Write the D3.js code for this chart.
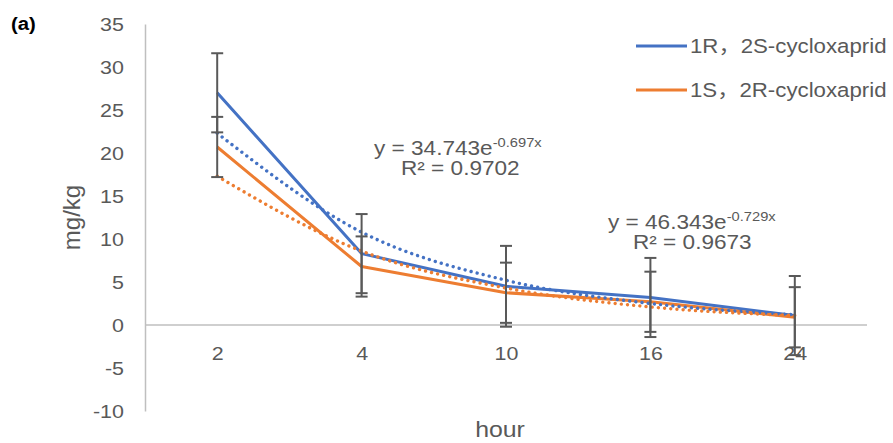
<!DOCTYPE html>
<html>
<head>
<meta charset="utf-8">
<script src="https://cdn.jsdelivr.net/npm/d3@7"></script>
<style>
  html, body { margin: 0; padding: 0; background: #fff; }
  svg { display: block; font-family: 'Liberation Sans', 'Noto Sans CJK SC', Arial, sans-serif; }
</style>
</head>
<body>
<div id="chart"></div>
<script>
// data
const hours = ['2', '4', '10', '16', '24'];
const seriesNames = ['1R\uFF0C2S-cycloxaprid', '1S\uFF0C2R-cycloxaprid'];
const rsValues = [27.0, 8.3, 4.5, 3.2, 1.1];
const srValues = [20.7, 6.8, 3.75, 2.7, 0.9];
const rsErrors = [4.6, 4.6, 4.7, 4.6, 4.6];
const srErrors = [3.5, 3.5, 3.5, 3.5, 3.5];
// dotted exponential trendlines, read at each hour
const rsTrend = [22.3, 10.8, 5.2, 2.5, 1.2];
const srTrend = [17.3, 8.6, 4.3, 2.1, 1.1];
const yTicks = [-10, -5, 0, 5, 10, 15, 20, 25, 30, 35];
const trendLabels = [
  { base: 'y = 34.743e', exp: '-0.697x', r2: 'R\u00B2 = 0.9702' },
  { base: 'y = 46.343e', exp: '-0.729x', r2: 'R\u00B2 = 0.9673' }
];

const width = 893, height = 443;
const plot = { left: 145, right: 867, top: 24, bottom: 411 };
const textColor = '#595959';
const axisColor = '#bfbfbf';
const colors = ['#4472C4', '#ED7D31'];
const stretch = 1.13; // the picture is a bit wider than tall

const svg = d3.select('#chart')
  .append('svg')
  .attr('width', width)
  .attr('height', height);

const x = d3.scalePoint()
  .domain(hours)
  .range([plot.left, plot.right])
  .padding(0.5);

const y = d3.scaleLinear()
  .domain([-10, 35])
  .range([plot.bottom, plot.top]);

function stretchedText(g, px, py, str, size, anchor) {
  return g.append('text')
    .attr('transform', `translate(${px},${py}) scale(${stretch},1)`)
    .attr('text-anchor', anchor || 'start')
    .attr('font-size', size)
    .attr('fill', textColor)
    .text(str);
}

// y axis
const yAxisGroup = svg.append('g')
  .attr('transform', `translate(${plot.left},0)`)
  .call(d3.axisLeft(y).tickValues(yTicks).tickFormat(d => String(d)).tickSize(0).tickSizeOuter(0));
yAxisGroup.select('.domain').attr('stroke', axisColor).attr('stroke-width', 1.5);
yAxisGroup.selectAll('text')
  .attr('x', null)
  .attr('transform', `translate(-21,0) scale(${stretch},1)`)
  .attr('font-size', 19)
  .attr('font-family', null)
  .attr('fill', textColor);

// x axis sits on y = 0
const xAxisGroup = svg.append('g')
  .attr('transform', `translate(0,${y(0)})`)
  .call(d3.axisBottom(x).tickSize(0).tickSizeOuter(0));
xAxisGroup.select('.domain')
  .attr('d', `M${plot.left},0H${plot.right}`)
  .attr('stroke', axisColor).attr('stroke-width', 1.5);
xAxisGroup.selectAll('text')
  .attr('y', null)
  .attr('transform', `translate(0,21) scale(${stretch},1)`)
  .attr('font-size', 19)
  .attr('font-family', null)
  .attr('fill', textColor);

// axis titles
stretchedText(svg, 500, 437, 'hour', 22, 'middle');
svg.append('text')
  .attr('transform', `translate(80,${(plot.top + plot.bottom) / 2}) rotate(-90)`)
  .attr('text-anchor', 'middle')
  .attr('font-size', 24)
  .attr('fill', textColor)
  .text('mg/kg');

// panel letter
svg.append('text')
  .attr('transform', `translate(11,30) scale(${stretch},1)`)
  .attr('font-size', 18)
  .attr('font-weight', 'bold')
  .attr('fill', '#000')
  .text('(a)');

const line = d3.line()
  .x((d, i) => x(hours[i]))
  .y(d => y(d));

const trendLine = d3.line()
  .x((d, i) => x(hours[i]))
  .y(d => y(d))
  .curve(d3.curveMonotoneX);

// series lines
[rsValues, srValues].forEach((vals, k) => {
  svg.append('path')
    .attr('d', line(vals))
    .attr('fill', 'none')
    .attr('stroke', colors[k])
    .attr('stroke-width', 3)
    .attr('stroke-linejoin', 'round');
});

// trendlines (round dots)
[rsTrend, srTrend].forEach((vals, k) => {
  svg.append('path')
    .attr('d', trendLine(vals))
    .attr('fill', 'none')
    .attr('stroke', colors[k])
    .attr('stroke-width', 3.4)
    .attr('stroke-linecap', 'round')
    .attr('stroke-dasharray', '0.01,6.2');
});

// error bars
[[rsValues, rsErrors], [srValues, srErrors]].forEach(([vals, errs]) => {
  const g = svg.append('g').attr('stroke', '#595959').attr('stroke-width', 2);
  vals.forEach((v, i) => {
    const cx = x(hours[i]);
    const top = y(v + errs[i]);
    const bot = y(v - errs[i]);
    g.append('line').attr('x1', cx).attr('x2', cx).attr('y1', top).attr('y2', bot);
    g.append('line').attr('x1', cx - 6).attr('x2', cx + 6).attr('y1', top).attr('y2', top);
    g.append('line').attr('x1', cx - 6).attr('x2', cx + 6).attr('y1', bot).attr('y2', bot);
  });
});

// trendline equations
function equation(px, py, r2x, lbl) {
  const t = svg.append('text')
    .attr('transform', `translate(${px},${py}) scale(${stretch},1)`)
    .attr('font-size', 20)
    .attr('fill', textColor);
  t.append('tspan').text(lbl.base);
  t.append('tspan').attr('font-size', 13).attr('dy', -8).text(lbl.exp);
  stretchedText(svg, r2x, py + 20, lbl.r2, 20);
}
equation(374, 155, 401, trendLabels[0]);
equation(608, 229, 633, trendLabels[1]);

// legend
const legend = svg.append('g');
seriesNames.forEach((name, k) => {
  const ly = 46 + k * 44;
  legend.append('line')
    .attr('x1', 636).attr('x2', 687)
    .attr('y1', ly).attr('y2', ly)
    .attr('stroke', colors[k])
    .attr('stroke-width', 3);
  stretchedText(legend, 690, ly + 7, name, 19.7)
    .attr('font-family', "'Liberation Sans', 'Noto Sans CJK SC', sans-serif");
});
</script>
</body>
</html>
